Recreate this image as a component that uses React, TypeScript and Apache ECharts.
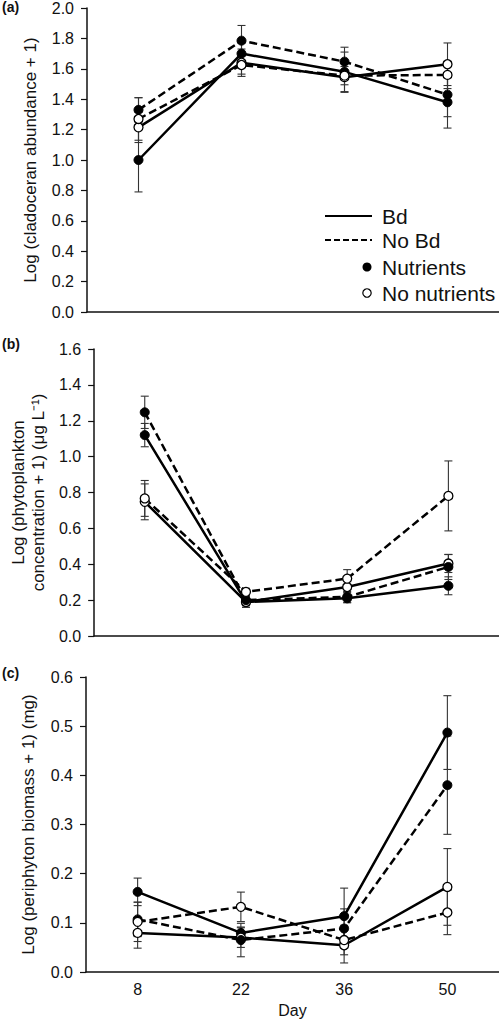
import React, { useEffect, useRef } from "react";
import * as echarts from "echarts";

const days = ["8", "22", "36", "50"];

// Panel (a) cladoceran abundance
const aBdNut = [1.0, 1.7, 1.58, 1.38];
const aBdNutErr = [0.21, 0.07, 0.13, 0.17];
const aBdNoNut = [1.215, 1.64, 1.545, 1.63];
const aBdNoNutErr = [0.1, 0.09, 0.1, 0.14];
const aNoBdNut = [1.33, 1.785, 1.647, 1.43];
const aNoBdNutErr = [0.08, 0.1, 0.095, 0.145];
const aNoBdNoNut = [1.27, 1.625, 1.555, 1.56];
const aNoBdNoNutErr = [0.14, 0.06, 0.06, 0.09];

// Panel (b) phytoplankton
const bBdNut = [1.12, 0.19, 0.21, 0.28];
const bBdNutErr = [0.065, 0.03, 0.025, 0.05];
const bBdNoNut = [0.748, 0.19, 0.273, 0.404];
const bBdNoNutErr = [0.1, 0.03, 0.03, 0.05];
const bNoBdNut = [1.247, 0.2, 0.218, 0.385];
const bNoBdNutErr = [0.09, 0.03, 0.03, 0.07];
const bNoBdNoNut = [0.767, 0.246, 0.32, 0.781];
const bNoBdNoNutErr = [0.1, 0.02, 0.05, 0.195];

// Panel (c) periphyton
const cBdNut = [0.163, 0.0795, 0.1136, 0.487];
const cBdNutErr = [0.028, 0.012, 0.057, 0.075];
const cBdNoNut = [0.0795, 0.07, 0.0544, 0.173];
const cBdNoNutErr = [0.031, 0.02, 0.036, 0.078];
const cNoBdNut = [0.107, 0.065, 0.0884, 0.38];
const cNoBdNutErr = [0.035, 0.034, 0.04, 0.1];
const cNoBdNoNut = [0.102, 0.1325, 0.065, 0.121];
const cNoBdNoNutErr = [0.04, 0.03, 0.03, 0.045];

const FONT = "'Liberation Sans', Arial, sans-serif";

type Trt = { name: string; vals: number[]; errs: number[]; bd: boolean; nut: boolean };

export default function App() {
  const ref = useRef<HTMLDivElement>(null);
  useEffect(() => {
    if (!ref.current) return;
    const chart = echarts.init(ref.current, undefined, { renderer: "svg" });

    const panels: { trts: Trt[] }[] = [
      {
        trts: [
          { name: "Bd, Nutrients", vals: aBdNut, errs: aBdNutErr, bd: true, nut: true },
          { name: "Bd, No nutrients", vals: aBdNoNut, errs: aBdNoNutErr, bd: true, nut: false },
          { name: "No Bd, Nutrients", vals: aNoBdNut, errs: aNoBdNutErr, bd: false, nut: true },
          { name: "No Bd, No nutrients", vals: aNoBdNoNut, errs: aNoBdNoNutErr, bd: false, nut: false },
        ],
      },
      {
        trts: [
          { name: "Bd, Nutrients", vals: bBdNut, errs: bBdNutErr, bd: true, nut: true },
          { name: "Bd, No nutrients", vals: bBdNoNut, errs: bBdNoNutErr, bd: true, nut: false },
          { name: "No Bd, Nutrients", vals: bNoBdNut, errs: bNoBdNutErr, bd: false, nut: true },
          { name: "No Bd, No nutrients", vals: bNoBdNoNut, errs: bNoBdNoNutErr, bd: false, nut: false },
        ],
      },
      {
        trts: [
          { name: "Bd, Nutrients", vals: cBdNut, errs: cBdNutErr, bd: true, nut: true },
          { name: "Bd, No nutrients", vals: cBdNoNut, errs: cBdNoNutErr, bd: true, nut: false },
          { name: "No Bd, Nutrients", vals: cNoBdNut, errs: cNoBdNutErr, bd: false, nut: true },
          { name: "No Bd, No nutrients", vals: cNoBdNoNut, errs: cNoBdNoNutErr, bd: false, nut: false },
        ],
      },
    ];

    const grids = [
      { left: 87, top: 8, width: 412, height: 304 },
      { left: 85, top: 349, width: 414, height: 287 },
      { left: 86, top: 677, width: 413, height: 295 },
    ];

    const yCfg = [
      { max: 2, interval: 0.2, name: "Log (cladoceran abundance + 1)", gap: 46 },
      { max: 1.6, interval: 0.2, name: "Log (phytoplankton\nconcentration + 1) (μg L⁻¹)", gap: 46 },
      { max: 0.6, interval: 0.1, name: "Log (periphyton biomass + 1) (mg)", gap: 48 },
    ];

    const axisLine = { show: true, lineStyle: { color: "#111", width: 1.5 } };

    const xAxis = grids.map((_, i) => ({
      type: "category",
      gridIndex: i,
      data: days,
      boundaryGap: true,
      axisLine,
      axisTick: { show: false },
      axisLabel: {
        show: i === 2,
        color: "#111",
        fontSize: 16,
        fontFamily: FONT,
        margin: 9,
      },
      name: i === 2 ? "Day" : "",
      nameLocation: "middle",
      nameGap: 30,
      nameTextStyle: { color: "#111", fontSize: 16, fontFamily: FONT },
      splitLine: { show: false },
    }));

    const yAxis = yCfg.map((c, i) => ({
      type: "value",
      gridIndex: i,
      min: 0,
      max: c.max,
      interval: c.interval,
      axisLine,
      axisTick: { show: true, length: 6, lineStyle: { color: "#111", width: 1.2 } },
      axisLabel: {
        color: "#111",
        fontSize: 16,
        fontFamily: FONT,
        margin: 13,
        formatter: (v: number) => v.toFixed(1),
      },
      splitLine: { show: false },
      name: c.name,
      nameLocation: "middle",
      nameGap: c.gap,
      nameTextStyle: { color: "#111", fontSize: 17, fontFamily: FONT, lineHeight: 20 },
    }));

    const series: any[] = [];
    panels.forEach((p, pi) => {
      p.trts.forEach((t) => {
        series.push({
          type: "custom",
          name: t.name + " SE",
          xAxisIndex: pi,
          yAxisIndex: pi,
          z: 2,
          data: t.vals.map((v, k) => [k, v, t.errs[k]]),
          encode: { x: 0, y: 1 },
          renderItem: (params: any, api: any) => {
            const k = api.value(0);
            const v = api.value(1);
            const e = api.value(2);
            const top = api.coord([k, v + e]);
            const bot = api.coord([k, v - e]);
            const style = { stroke: "#333", lineWidth: 1.1 };
            const w = 4;
            return {
              type: "group",
              children: [
                { type: "line", shape: { x1: top[0], y1: top[1], x2: bot[0], y2: bot[1] }, style },
                { type: "line", shape: { x1: top[0] - w, y1: top[1], x2: top[0] + w, y2: top[1] }, style },
                { type: "line", shape: { x1: bot[0] - w, y1: bot[1], x2: bot[0] + w, y2: bot[1] }, style },
              ],
            };
          },
        });
        series.push({
          type: "line",
          name: t.name,
          xAxisIndex: pi,
          yAxisIndex: pi,
          z: 3,
          data: t.vals,
          symbol: "circle",
          symbolSize: 9,
          showSymbol: true,
          lineStyle: { color: "#000", width: 2.5, type: t.bd ? "solid" : [8, 4] },
          itemStyle: t.nut
            ? { color: "#000", borderColor: "#000", borderWidth: 1 }
            : { color: "#fff", borderColor: "#000", borderWidth: 1.3 },
        });
      });
    });

    const txt = (text: string, x: number, y: number, size: number, bold = false) => ({
      type: "text",
      x,
      y,
      style: {
        text,
        fill: "#111",
        fontSize: size,
        fontFamily: FONT,
        fontWeight: bold ? "bold" : "normal",
        verticalAlign: "middle",
        align: "left",
      },
    });

    const graphic: any[] = [
      txt("(a)", 2, 7, 14, true),
      txt("(b)", 2, 344, 14, true),
      txt("(c)", 2, 673, 14, true),
      // legend
      { type: "line", shape: { x1: 325, y1: 216, x2: 372, y2: 216 }, style: { stroke: "#000", lineWidth: 2 } },
      txt("Bd", 382, 216, 21),
      {
        type: "line",
        shape: { x1: 325, y1: 240, x2: 372, y2: 240 },
        style: { stroke: "#000", lineWidth: 2, lineDash: [6, 3] },
      },
      txt("No Bd", 382, 240, 21),
      { type: "circle", shape: { cx: 367, cy: 267, r: 4.5 }, style: { fill: "#000" } },
      txt("Nutrients", 382, 267, 21),
      { type: "circle", shape: { cx: 367, cy: 293, r: 4.2 }, style: { fill: "#fff", stroke: "#000", lineWidth: 1.2 } },
      txt("No nutrients", 382, 293, 21),
    ];

    chart.setOption({
      animation: false,
      backgroundColor: "#fff",
      textStyle: { fontFamily: FONT },
      grid: grids,
      xAxis,
      yAxis,
      series,
      graphic,
    });
    return () => chart.dispose();
  }, []);

  return (
    <div
      ref={ref}
      style={{ position: "absolute", left: 0, top: 0, width: 499, height: 1020 }}
    />
  );
}
